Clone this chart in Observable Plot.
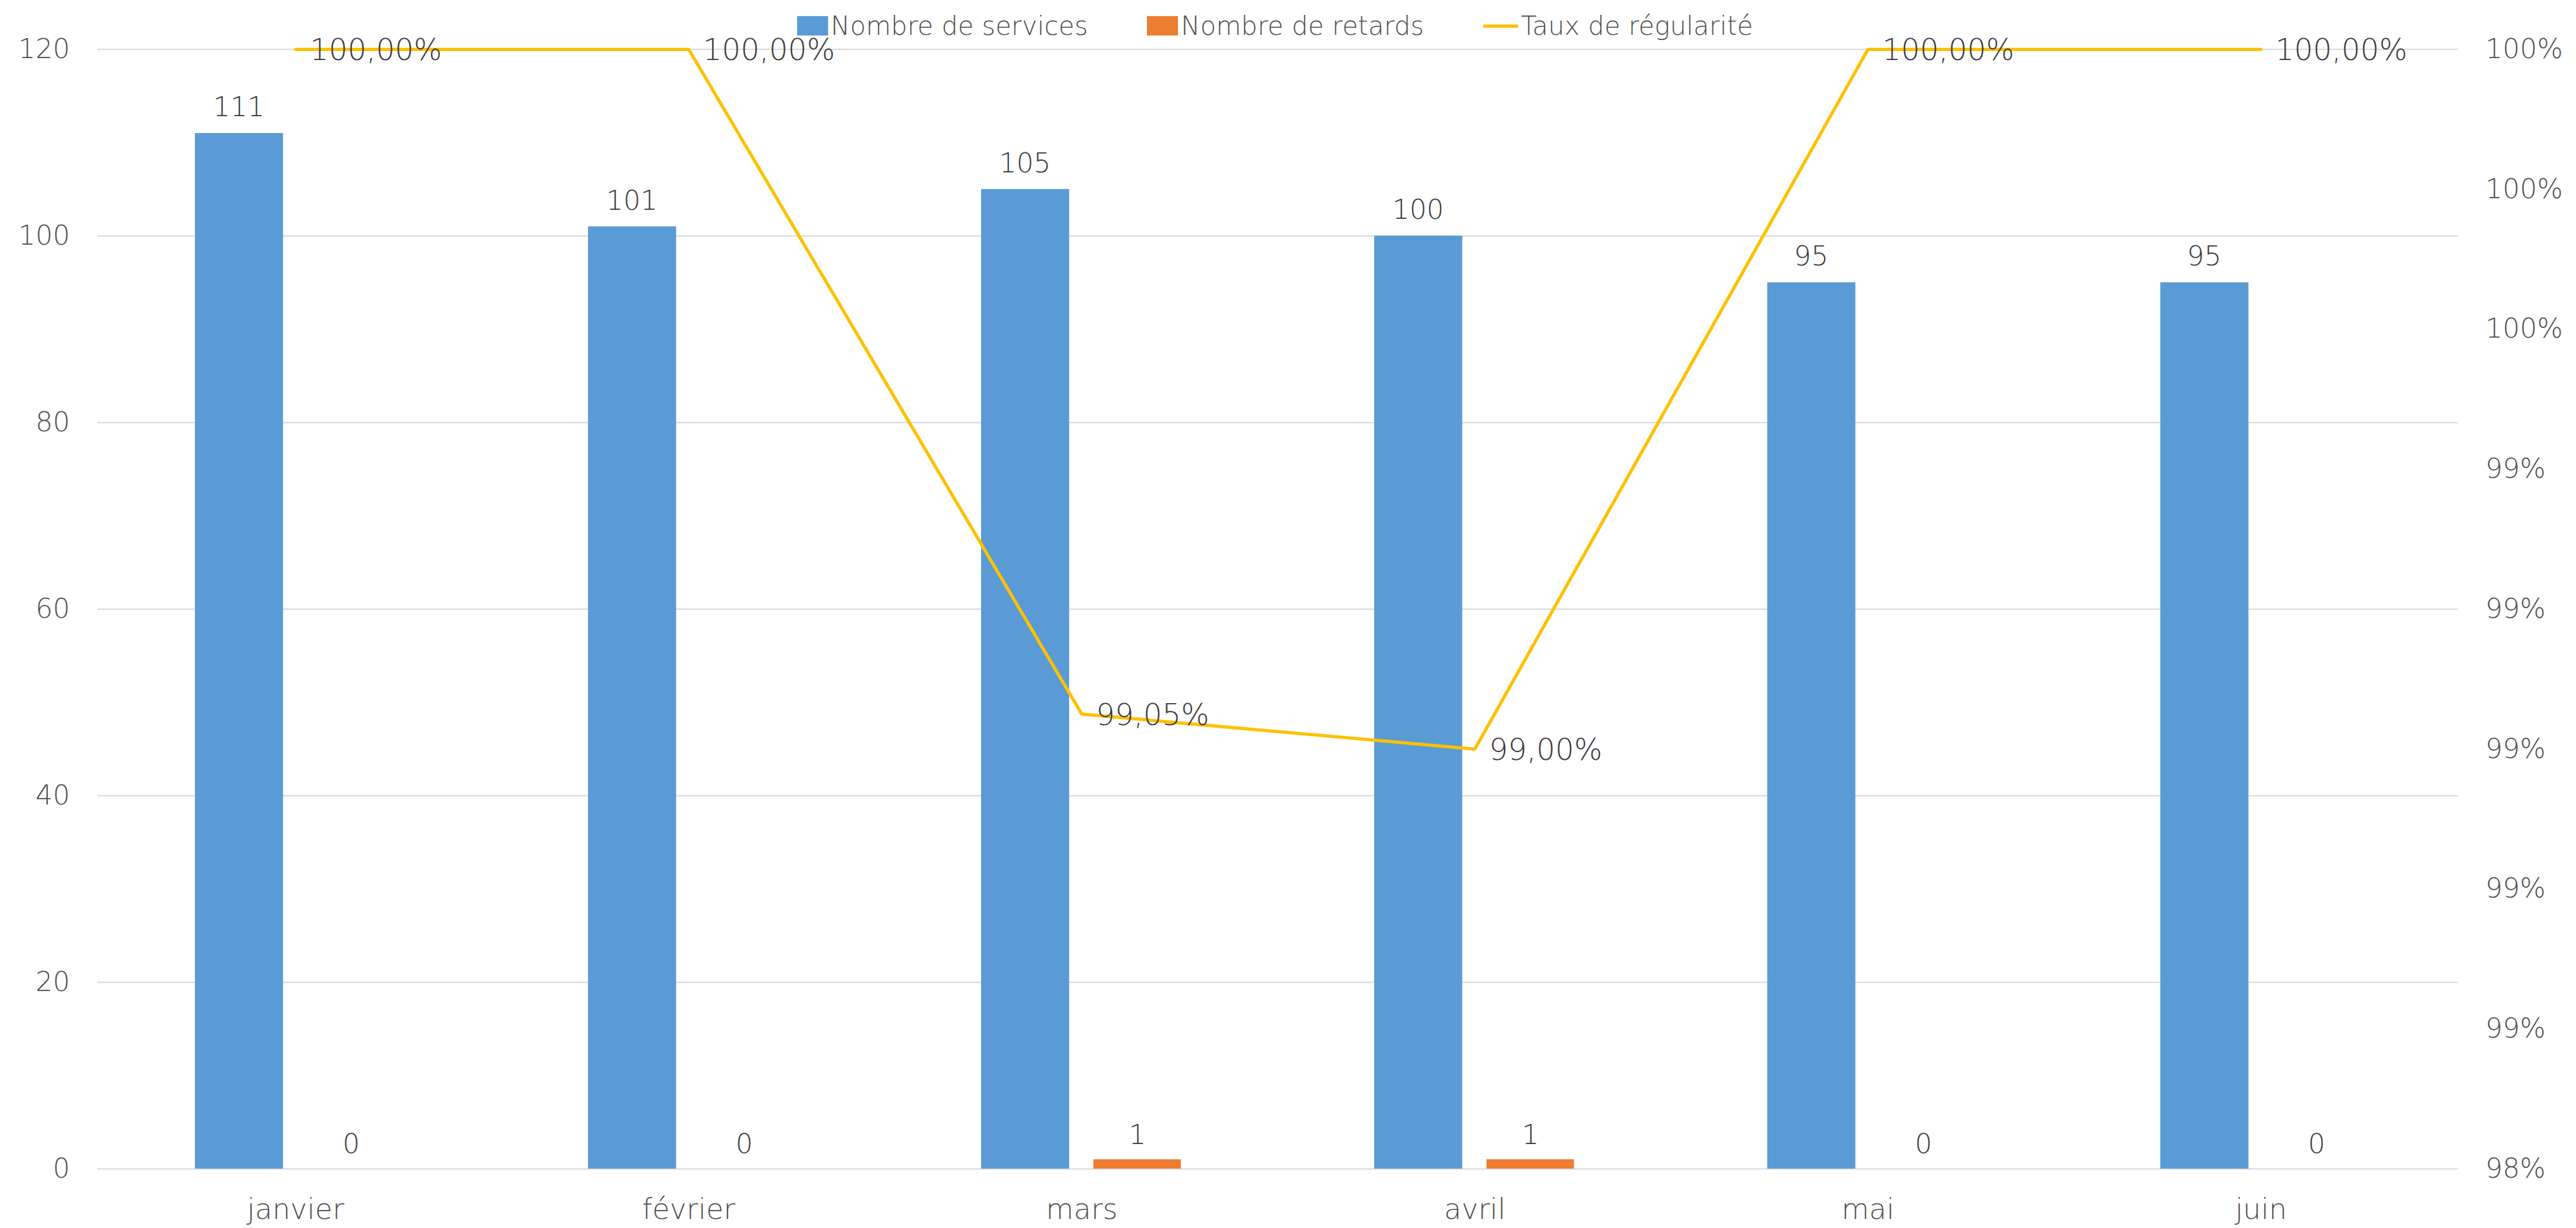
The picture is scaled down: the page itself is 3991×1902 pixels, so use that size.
<!DOCTYPE html>
<html>
<head>
<meta charset="utf-8">
<script src="https://cdn.jsdelivr.net/npm/d3@7"></script>
<script src="https://cdn.jsdelivr.net/npm/@observablehq/plot@0.6"></script>
<style>
  body { margin: 0; background: #fff; font-family: "DejaVu Sans", sans-serif; position: relative; }
  #legend { position: absolute; top: 12px; left: 0; width: 3991px; height: 56px; display: flex; justify-content: center; align-items: center; gap: 92px; padding-right: 40px; box-sizing: border-box; }
  .item { display: flex; align-items: center; gap: 4px; font-size: 40px; color: #505050; font-weight: 200; }
  .sw { width: 48px; height: 30px; }
  .ln { width: 54px; height: 5px; background: #FFC000; }
  #chart svg { display: block; }
</style>
</head>
<body>
<div id="chart"></div>
<div id="legend"></div>
<script>
const months = ["janvier", "février", "mars", "avril", "mai", "juin"];
const services = [111, 101, 105, 100, 95, 95];
const retards = [0, 0, 1, 1, 0, 0];
const regularite = [1.0, 1.0, 0.9905, 0.99, 1.0, 1.0];
const regulariteLabels = ["100,00%", "100,00%", "99,05%", "99,00%", "100,00%", "100,00%"];
const countTicks = [0, 20, 40, 60, 80, 100, 120];
const rateTicks = [0.984, 0.986, 0.988, 0.990, 0.992, 0.994, 0.996, 0.998, 1.0];
const rateTickLabels = ["98%", "99%", "99%", "99%", "99%", "99%", "100%", "100%", "100%"];
const seriesNames = ["Nombre de services", "Nombre de retards", "Taux de régularité"];
const colors = ["#5B9BD5", "#ED7D31", "#FFC000"];

const COUNT_MAX = 120, RATE_MIN = 0.984, RATE_MAX = 1.0;
const rateToY = r => (r - RATE_MIN) / (RATE_MAX - RATE_MIN) * COUNT_MAX;

const rows = months.map((m, i) => ({
  month: m, services: services[i], retards: retards[i],
  rate: regularite[i], rateY: rateToY(regularite[i]), rateLabel: regulariteLabels[i]
}));

// legend
const legend = document.getElementById("legend");
seriesNames.forEach((name, i) => {
  const it = document.createElement("div");
  it.className = "item";
  const sw = document.createElement("div");
  if (i < 2) { sw.className = "sw"; sw.style.background = colors[i]; }
  else { sw.className = "ln"; }
  it.appendChild(sw);
  const t = document.createElement("span");
  t.textContent = name;
  it.appendChild(t);
  legend.appendChild(it);
});

const FONT = "'DejaVu Sans', sans-serif";
const tickColor = "#505050";
const labelColor = "#3a3a3a";

const chart = Plot.plot({
  width: 3991,
  height: 1902,
  marginTop: 76,
  marginBottom: 92,
  marginLeft: 151,
  marginRight: 183,
  style: { fontFamily: FONT, fontWeight: 200, background: "#fff" },
  x: { domain: months, padding: 0, label: null },
  y: { domain: [0, COUNT_MAX], label: null },
  marks: [
    Plot.gridY(countTicks, { stroke: "#D9D9D9", strokeOpacity: 1, strokeWidth: 2 }),
    Plot.barY(rows, { x: "month", y: "services", fill: colors[0], insetLeft: 149, insetRight: 323.5 }),
    Plot.barY(rows, { x: "month", y: "retards", fill: colors[1], insetLeft: 323, insetRight: 150.5 }),
    Plot.text(rows, { x: "month", y: "services", text: d => String(d.services), dx: -88, dy: -40, fontSize: 42, fill: labelColor }),
    Plot.text(rows, { x: "month", y: "retards", text: d => String(d.retards), dx: 86, dy: -38, fontSize: 42, fill: labelColor }),
    Plot.line(rows, { x: "month", y: "rateY", stroke: colors[2], strokeWidth: 5 }),
    Plot.text(rows, { x: "month", y: "rateY", text: "rateLabel", textAnchor: "start", dx: 22, dy: 2, fontSize: 46, fill: labelColor }),
    Plot.axisY({ anchor: "left", ticks: countTicks, tickSize: 0, tickPadding: 43, fontSize: 42, fill: tickColor, label: null }),
    Plot.axisY({ anchor: "right", ticks: rateTicks.map(rateToY), tickFormat: (v, i) => rateTickLabels[i], tickSize: 0, tickPadding: 42, fontSize: 42, fill: tickColor, label: null }),
    Plot.axisX({ anchor: "bottom", tickSize: 0, tickPadding: 46, fontSize: 44, fill: tickColor, label: null })
  ]
});
document.getElementById("chart").appendChild(chart);
</script>
</body>
</html>
